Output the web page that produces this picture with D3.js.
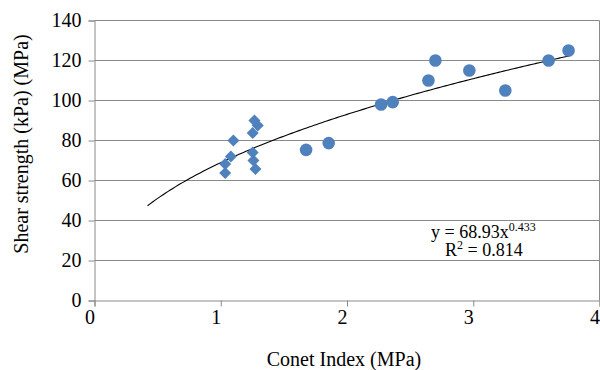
<!DOCTYPE html>
<html><head><meta charset="utf-8">
<script src="https://cdn.jsdelivr.net/npm/d3@7"></script>
<style>
html,body{margin:0;padding:0;background:#fff;}
svg text{font-family:"Liberation Serif","Times New Roman",serif;fill:#000;}
svg .tick text{font-family:"Liberation Serif" !important;font-size:20px;}
</style></head>
<body><svg id="c" width="600" height="370"></svg>
<script>
// Data
const diamondX = [1.10, 1.08, 1.035, 1.035, 1.267, 1.293, 1.253, 1.253, 1.259, 1.275];
const diamondY = [80, 72, 68.3, 63.7, 90, 87.5, 83.7, 74, 70, 65.8];
const circleX = [1.676, 1.855, 2.27, 2.362, 2.645, 2.70, 2.969, 3.254, 3.597, 3.755];
const circleY = [75.3, 78.7, 98, 99.2, 110, 120, 115, 105, 120, 125];
const xTicks = [0, 1, 2, 3, 4];
const yTicks = [0, 20, 40, 60, 80, 100, 120, 140];
const trendA = 68.93, trendB = 0.433, trendFrom = 0.42, trendTo = 3.77;
const eqText = "y = 68.93x", eqExp = "0.433", r2Text = " = 0.814";
const xTitle = "Conet Index (MPa)";
const yTitle = "Shear strength (kPa) (MPa)";

const svg = d3.select("#c");
const x = d3.scaleLinear().domain([0, 4]).range([94.5, 599.5]);
const y = d3.scaleLinear().domain([0, 140]).range([300.5, 20.5]);
const grid = "#8a8a8a", blue = "#4F81BD";

// gridlines
svg.append("g").selectAll("line").data(yTicks.filter(d => d > 0)).join("line")
  .attr("x1", x(0)).attr("x2", x(4)).attr("y1", d => y(d)).attr("y2", d => y(d))
  .attr("stroke", grid).attr("stroke-width", 1);
// right border
svg.append("line").attr("x1", x(4)).attr("x2", x(4)).attr("y1", y(0)).attr("y2", y(140))
  .attr("stroke", grid);

// axes
const yAxis = svg.append("g").attr("transform", `translate(${x(0)},0)`)
  .call(d3.axisLeft(y).tickValues(yTicks).tickFormat(d3.format("d")).tickSize(6).tickPadding(7));
const xAxis = svg.append("g").attr("transform", `translate(0,${y(0)})`)
  .call(d3.axisBottom(x).tickValues(xTicks).tickFormat(d3.format("d")).tickSize(6).tickPadding(3));
[yAxis, xAxis].forEach(a => {
  a.attr("font-family", null).attr("font-size", null);
  a.select(".domain").attr("stroke", grid);
  a.selectAll(".tick line").attr("stroke", grid);
  a.selectAll("text").attr("fill", "#000");
});
xAxis.selectAll("text").attr("dx", -5);

// trend line
const tr = d3.range(trendFrom, trendTo + 0.001, 0.02).map(v => [v, trendA * Math.pow(v, trendB)]);
svg.append("path").datum(tr)
  .attr("d", d3.line().x(d => x(d[0])).y(d => y(d[1])))
  .attr("fill", "none").attr("stroke", "#000").attr("stroke-width", 1.1);

// diamonds
const dsym = d3.symbol().type(d3.symbolSquare).size(72);
svg.append("g").selectAll("path").data(diamondX.map((v, i) => [v, diamondY[i]])).join("path")
  .attr("d", dsym)
  .attr("transform", d => `translate(${x(d[0])},${y(d[1])}) rotate(45)`)
  .attr("fill", blue);

// circles
svg.append("g").selectAll("circle").data(circleX.map((v, i) => [v, circleY[i]])).join("circle")
  .attr("cx", d => x(d[0])).attr("cy", d => y(d[1])).attr("r", 6.3)
  .attr("fill", blue);

// equation box
svg.append("rect").attr("x", 430).attr("y", 222).attr("width", 125).attr("height", 36).attr("fill", "#fff");
const eq = svg.append("text").attr("x", 431).attr("y", 238).style("font-size", "18px");
eq.append("tspan").text(eqText);
eq.append("tspan").attr("dy", -7).style("font-size", "12px").text(eqExp);
const r2 = svg.append("text").attr("x", 445).attr("y", 256).style("font-size", "18px");
r2.append("tspan").text("R");
r2.append("tspan").attr("dy", -7).style("font-size", "12px").text("2");
r2.append("tspan").attr("dy", 7).text(r2Text);

// titles
svg.append("text").attr("x", 344).attr("y", 366).attr("text-anchor", "middle")
  .style("font-size", "20px").text(xTitle);
svg.append("text").attr("transform", "translate(28,144) rotate(-90)").attr("text-anchor", "middle")
  .style("font-size", "20px").text(yTitle);
</script></body></html>
